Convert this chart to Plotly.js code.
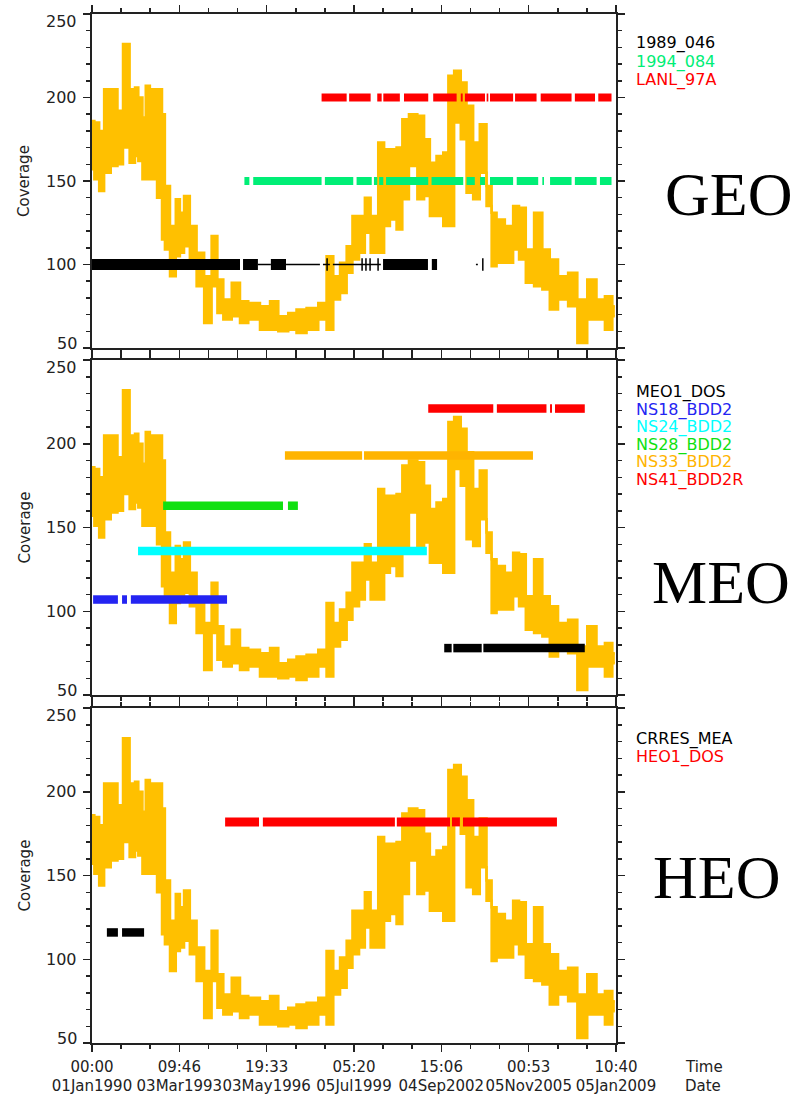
<!DOCTYPE html>
<html><head><meta charset="utf-8">
<script src="https://cdn.plot.ly/plotly-3.0.1.min.js"></script>
<style>html,body{margin:0;padding:0;background:#fff}#chart{width:794px;height:1096px}</style>
</head><body><div id="chart"></div>
<script>
// ---------------- DATA ----------------
// Orange "coverage" band (upper / lower envelope), x in decimal years
const fluxYears = [1990.00,1990.17,1990.35,1990.53,1990.83,1991.02,1991.23,1991.50,1991.62,1991.74,1991.92,1991.98,1992.22,1992.50,1992.58,1992.71,1992.95,1993.13,1993.25,1993.43,1993.67,1993.92,1994.22,1994.46,1994.64,1994.89,1995.25,1995.49,1995.85,1996.34,1996.58,1996.94,1997.30,1997.54,1998.03,1998.39,1998.63,1998.88,1999.12,1999.36,1999.54,1999.84,1999.96,2000.26,2000.51,2000.69,2000.93,2001.17,2001.35,2001.65,2001.96,2002.14,2002.38,2002.62,2002.87,2002.99,2003.29,2003.47,2003.71,2003.95,2004.19,2004.44,2004.56,2004.80,2005.16,2005.40,2005.59,2005.89,2006.19,2006.49,2006.73,2007.09,2007.46,2007.76,2008.18,2008.43,2008.79,2008.97];
const fluxUpper = [186,185,180,205,205,192,232,205,206,200,188,207,205,205,190,147,123,139,131,141,123,107,93,117,91,79,89,78,77,75,78,69,71,73,74,77,105,93,101,111,129,129,140,129,173,169,169,170,187,190,189,175,161,165,167,213,216,209,195,173,184,147,131,127,123,135,134,109,131,109,103,93,95,79,91,79,81,75];
const fluxLower = [157,151,144,155,159,160,170,161,165,162,151,151,151,140,115,109,93,105,107,111,103,87,65,87,71,67,69,65,67,61,61,60,61,59,61,67,61,79,83,95,103,107,119,107,107,123,127,121,139,159,139,141,129,129,123,123,185,175,143,139,155,135,99,101,101,109,103,89,87,85,73,79,75,53,67,67,61,69];

// x axis tick labels
const tickTimes = ["00:00","09:46","19:33","05:20","15:06","00:53","10:40"];
const tickDates = ["01Jan1990","03Mar1993","03May1996","05Jul1999","04Sep2002","05Nov2005","05Jan2009"];
const xStart = 1990.0;
const xEnd = 2009.0128;
const yTicks = [50,100,150,200,250];

// GEO panel
const geoNames = ["1989_046","1994_084","LANL_97A"];
const geoLevels = [100,150,200];
const geo1989Thick = [[1990.00,1995.37],[1995.48,1996.02],[1996.49,1997.04],[2000.56,2002.19],[2002.33,2002.52]];
const geo1989Thin = [[1996.02,1996.49],[1997.04,1998.27],[1998.38,1998.63],[1998.74,2000.48],[2003.93,2004.00]];
const geo1989Marks = [1998.53,1999.80,1999.94,2000.09,2000.38,2004.18];
const geo1994 = [[1995.53,1995.71],[1995.85,1998.33],[1998.45,1999.48],[1999.60,2000.15],[2000.23,2000.35],[2000.42,2000.57],[2000.67,2002.20],[2002.32,2003.47],[2003.59,2003.89],[2004.08,2004.26],[2004.44,2005.28],[2005.41,2006.19],[2006.34,2006.40],[2006.62,2007.40],[2007.52,2008.31],[2008.43,2008.85]];
const geoLanl = [[1998.33,1999.24],[1999.33,2000.11],[2000.35,2000.51],[2000.57,2001.17],[2001.32,2002.20],[2002.38,2003.23],[2003.38,2003.45],[2003.53,2004.26],[2004.32,2004.38],[2004.44,2005.28],[2005.35,2006.13],[2006.28,2007.40],[2007.52,2008.25],[2008.37,2008.85]];

// MEO panel
const meoNames = ["MEO1_DOS","NS18_BDD2","NS24_BDD2","NS28_BDD2","NS33_BDD2","NS41_BDD2R"];
const meoLevels = [78,107,136,163,193,221];
const meoMeo1 = [[2002.78,2003.05],[2003.11,2004.14],[2004.20,2007.88]];
const meoNs18 = [[1990.04,1990.94],[1991.09,1991.27],[1991.41,1994.90]];
const meoNs24 = [[1991.67,2002.15]];
const meoNs28 = [[1992.58,1996.93],[1997.11,1997.47]];
const meoNs33 = [[1997.00,1999.80],[1999.87,2006.00]];
const meoNs41 = [[2002.20,2004.56],[2004.69,2006.49],[2006.62,2006.69],[2006.80,2007.88]];

// HEO panel
const heoNames = ["CRRES_MEA","HEO1_DOS"];
const heoLevels = [116,182];
const heoCrres = [[1990.54,1990.94],[1991.09,1991.89]];
const heoHeo1 = [[1994.83,1996.06],[1996.20,2000.99],[2001.06,2002.99],[2003.06,2003.35],[2003.46,2006.87]];

const panelLabels = ["GEO","MEO","HEO"];
const yTitle = "Coverage";
const xTitles = ["Time","Date"];

// ---------------- LAYOUT GEOMETRY (pixels) ----------------
const W = 794, H = 1096;
const PL = 92, PR = 616, PT = 14, PB = 1043;
const panelPx = [[14,348],[360,695],[708,1043]];
const py = p => (PB - p) / (PB - PT);
const px = p => (p - PL) / (PR - PL);

const ORANGE = '#FFC000';
const AX = '#222222';
const FONT = 'DejaVu Sans';

// ---------------- TRACES ----------------
const traces = [];
const axisSuffix = ['', '2', '3'];

function addFlux(i) {
  const xa = 'x' + axisSuffix[i], ya = 'y' + axisSuffix[i];
  traces.push({x: fluxYears, y: fluxLower, xaxis: xa, yaxis: ya, mode: 'lines',
    line: {color: ORANGE, width: 2.5, shape: 'hvh'}, hoverinfo: 'skip', showlegend: false});
  traces.push({x: fluxYears, y: fluxUpper, xaxis: xa, yaxis: ya, mode: 'lines', fill: 'tonexty',
    fillcolor: ORANGE, line: {color: ORANGE, width: 2.5, shape: 'hvh'}, hoverinfo: 'skip', showlegend: false});
}
function addSegs(i, segs, level, color, width) {
  const xs = [], ys = [];
  segs.forEach(s => { xs.push(s[0], s[1], null); ys.push(level, level, null); });
  traces.push({x: xs, y: ys, xaxis: 'x' + axisSuffix[i], yaxis: 'y' + axisSuffix[i], mode: 'lines',
    line: {color: color, width: width}, hoverinfo: 'skip', showlegend: false, connectgaps: false});
}
function addMarks(i, xsIn, level, color) {
  traces.push({x: xsIn, y: xsIn.map(() => level), xaxis: 'x' + axisSuffix[i], yaxis: 'y' + axisSuffix[i],
    mode: 'markers', marker: {symbol: 'line-ns', size: 9, line: {color: color, width: 1.5}},
    hoverinfo: 'skip', showlegend: false});
}

// GEO
addFlux(0);
addSegs(0, geo1989Thin, geoLevels[0], '#000000', 1.5);
addMarks(0, geo1989Marks, geoLevels[0], '#000000');
addSegs(0, geo1989Thick, geoLevels[0], '#000000', 11);
const geoColors = ['#000000', '#00EE76', '#FF0000'];
addSegs(0, geo1994, geoLevels[1], geoColors[1], 8);
addSegs(0, geoLanl, geoLevels[2], geoColors[2], 8);
// MEO
addFlux(1);
const meoSegs = [meoMeo1, meoNs18, meoNs24, meoNs28, meoNs33, meoNs41];
const meoColors = ['#000000', '#2424F2', '#00FFFF', '#10E010', '#FFB400', '#FF0000'];
meoSegs.forEach((s, k) => addSegs(1, s, meoLevels[k], meoColors[k], 8.5));
// HEO
addFlux(2);
const heoColors = ['#000000', '#FF0000'];
addSegs(2, heoCrres, heoLevels[0], heoColors[0], 8.5);
addSegs(2, heoHeo1, heoLevels[1], heoColors[1], 9);

// ---------------- AXES ----------------
const majorStep = (xEnd - xStart) / 6;
const tickVals = tickTimes.map((t, k) => xStart + k * majorStep);
const tickText = tickTimes.map((t, k) => t + '<br>' + tickDates[k]);

function xAxis(i, showLabels) {
  return {
    type: 'linear', range: [xStart, xEnd], domain: [0, 1], anchor: 'y' + axisSuffix[i],
    tickmode: 'array', tickvals: tickVals, ticktext: tickText, showticklabels: showLabels,
    ticks: 'outside', ticklen: 7, tickwidth: 1.5, tickcolor: AX, tickangle: 0, ticklabelstandoff: 2,
    minor: {tick0: xStart, dtick: majorStep / 3, ticks: 'outside', ticklen: 4, tickwidth: 1.5, tickcolor: AX, showgrid: false},
    showline: true, linecolor: AX, linewidth: 1.6, mirror: 'ticks', showgrid: false, zeroline: false,
    tickfont: {family: FONT, size: 15, color: AX}, fixedrange: true
  };
}
function yAxis(i) {
  const p = panelPx[i];
  return {
    range: [50, 250], domain: [py(p[1]), py(p[0])], anchor: 'x' + axisSuffix[i],
    tickmode: 'array', tickvals: yTicks, showticklabels: false,
    ticks: 'outside', ticklen: 7, tickwidth: 1.5, tickcolor: AX,
    minor: {tick0: 50, dtick: 10, ticks: 'outside', ticklen: 4, tickwidth: 1.5, tickcolor: AX, showgrid: false},
    showline: true, linecolor: AX, linewidth: 1.6, mirror: 'ticks', showgrid: false, zeroline: false,
    fixedrange: true
  };
}

// ---------------- ANNOTATIONS ----------------
const annotations = [];
// y tick labels (end labels nudged inward, as in the reference)
[0, 1, 2].forEach(i => {
  yTicks.forEach((v, k) => {
    const shift = k === 0 ? 5 : (k === yTicks.length - 1 ? -7 : 0);
    annotations.push({
      xref: 'paper', yref: 'y' + axisSuffix[i], x: px(79), y: v, xanchor: 'right', yanchor: 'middle',
      yshift: shift, text: String(v), showarrow: false, font: {family: FONT, size: 16, color: AX}
    });
  });
  const p = panelPx[i];
  annotations.push({
    xref: 'paper', yref: 'paper', x: px(24), y: py((p[0] + p[1]) / 2), xanchor: 'center', yanchor: 'middle',
    textangle: -90, text: yTitle, showarrow: false, font: {family: FONT, size: 15, color: AX}
  });
});

function legendBlock(names, colors, firstY, stepY) {
  names.forEach((n, k) => annotations.push({
    xref: 'paper', yref: 'paper', x: px(634), y: py(firstY + k * stepY), xanchor: 'left', yanchor: 'middle',
    text: n, showarrow: false, font: {family: FONT, size: 16, color: colors[k]}
  }));
}
legendBlock(geoNames, geoColors, 43, 18.5);
legendBlock(meoNames, meoColors, 392, 17.6);
legendBlock(heoNames, heoColors, 739, 18);

const bigPos = [[663, 194], [650, 582], [651, 877]];
panelLabels.forEach((t, k) => annotations.push({
  xref: 'paper', yref: 'paper', x: px(bigPos[k][0]), y: py(bigPos[k][1]), xanchor: 'left', yanchor: 'middle',
  text: t, showarrow: false, font: {family: 'Liberation Serif', size: 62, color: '#000'}
}));
xTitles.forEach((t, k) => annotations.push({
  xref: 'paper', yref: 'paper', x: px(683), y: py(1067 + k * 19), xanchor: 'left', yanchor: 'middle',
  text: t, showarrow: false, font: {family: FONT, size: 15, color: AX}
}));

const layout = {
  width: W, height: H, paper_bgcolor: '#ffffff', plot_bgcolor: '#ffffff',
  margin: {l: PL, r: W - PR, t: PT, b: H - PB, pad: 0},
  showlegend: false,
  xaxis: xAxis(0, false), xaxis2: xAxis(1, false), xaxis3: xAxis(2, true),
  yaxis: yAxis(0), yaxis2: yAxis(1), yaxis3: yAxis(2),
  annotations: annotations
};

Plotly.newPlot('chart', traces, layout, {staticPlot: true, displayModeBar: false});
</script>
</body></html>
